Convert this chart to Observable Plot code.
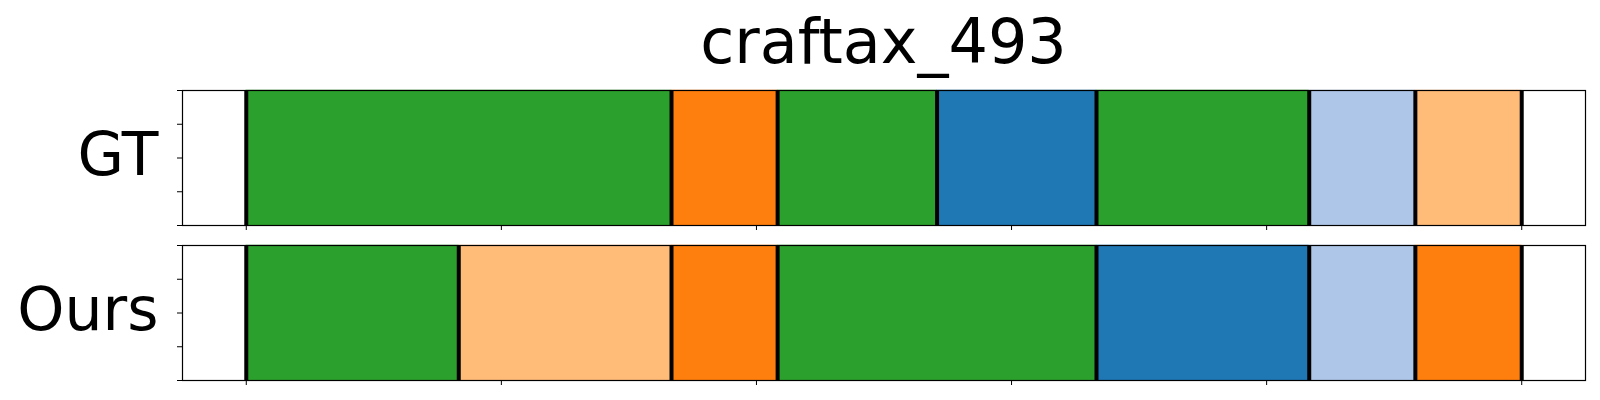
<!DOCTYPE html>
<html>
<head>
<meta charset="utf-8">
<script src="https://cdn.jsdelivr.net/npm/d3@7"></script>
<script src="https://cdn.jsdelivr.net/npm/@observablehq/plot@0.6"></script>
<style>
  html, body { margin: 0; padding: 0; background: #fff; }
  #title {
    box-sizing: border-box;
    width: 1600px; height: 80px;
    padding: 4px 15px 0 182px;
    text-align: center;
    font-family: "DejaVu Sans", sans-serif;
    font-size: 62px; line-height: 76px; color: #000;
  }
  svg { display: block; }
</style>
</head>
<body>
<div id="title">craftax_493</div>
<div id="chart"></div>
<script>
// Rows
const rows = ["GT", "Ours"];
// Segment boundaries (timeline units) and segment classes (tab20 index)
const gtBounds = [0, 166.7, 208.3, 270.8, 333.3, 416.7, 458.3, 500];
const gtClasses = [4, 2, 4, 0, 4, 1, 3];
const oursBounds = [0, 83.3, 166.7, 208.3, 333.3, 416.7, 458.3, 500];
const oursClasses = [4, 3, 2, 4, 0, 1, 2];
// Class palette (tab20 order)
const classIds = [0, 1, 2, 3, 4];
const classColors = ["#1f77b4", "#aec7e8", "#ff7f0e", "#ffbb78", "#2ca02c"];
// Axis ticks (unlabelled)
const xTicks = [0, 100, 200, 300, 400, 500];
const yTicks = [0, 0.25, 0.5, 0.75, 1];

function segs(row, bounds, classes) {
  return classes.map((c, i) => ({row, x1: bounds[i], x2: bounds[i + 1], cls: c}));
}
const segments = [...segs("GT", gtBounds, gtClasses), ...segs("Ours", oursBounds, oursClasses)];
const boundaries = [
  ...gtBounds.map(x => ({row: "GT", x})),
  ...oursBounds.map(x => ({row: "Ours", x}))
];

const chart = Plot.plot({
  width: 1600,
  height: 320,
  marginTop: 10,
  marginBottom: 20,
  marginLeft: 182,
  marginRight: 15,
  style: {fontFamily: "DejaVu Sans, sans-serif", background: "white"},
  x: {domain: [-25, 525], axis: null},
  y: {domain: [0, 1], axis: null},
  fy: {domain: rows, axis: null, paddingInner: 20 / 155, paddingOuter: 0},
  color: {type: "ordinal", domain: classIds, range: classColors},
  marks: [
    Plot.rect(segments, {x1: "x1", x2: "x2", y1: 0, y2: 1, fy: "row", fill: "cls", stroke: "cls", strokeWidth: 0.5}),
    Plot.ruleX(boundaries, {x: "x", fy: "row", stroke: "black", strokeWidth: 4}),
    Plot.axisX({ticks: xTicks, tickFormat: () => "", tickSize: 5, label: null, facetAnchor: null, stroke: "black", strokeWidth: 1}),
    Plot.axisY({ticks: yTicks, tickFormat: () => "", tickSize: 5, label: null, stroke: "black", strokeWidth: 1}),
    Plot.text(rows, {fy: d => d, text: d => d, frameAnchor: "left", textAnchor: "end", dx: -24, dy: -2, fontSize: 60, fill: "black"}),
    Plot.frame({stroke: "black", strokeWidth: 1.2})
  ]
});
document.getElementById("chart").appendChild(chart);
</script>
</body>
</html>
